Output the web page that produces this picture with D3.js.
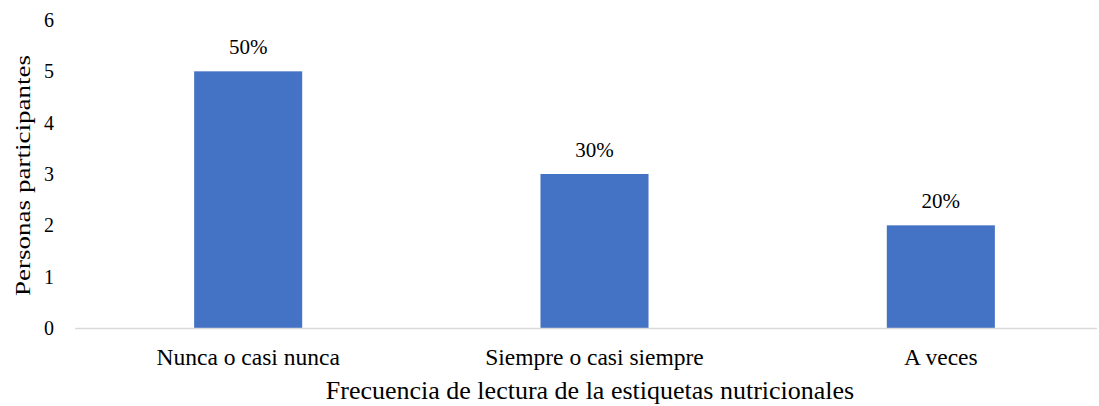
<!DOCTYPE html>
<html>
<head>
<meta charset="utf-8">
<script src="https://cdn.jsdelivr.net/npm/d3@7"></script>
<style>
  html, body { margin: 0; padding: 0; background: #fff; }
  svg text { font-family: "Liberation Serif", "Times New Roman", serif; fill: #000; }
</style>
</head>
<body>
<svg id="chart" width="1099" height="406"></svg>
<script>
const categories = ["Nunca o casi nunca", "Siempre o casi siempre", "A veces"];
const participants = [5, 3, 2];
const shareLabels = ["50%", "30%", "20%"];
const yTicks = [0, 1, 2, 3, 4, 5, 6];

const svg = d3.select("#chart");
const plotLeft = 75, plotRight = 1114, plotTop = 20, plotBottom = 328;

const x = d3.scaleBand()
  .domain(categories)
  .range([plotLeft, plotRight])
  .paddingInner(0.688)
  .paddingOuter(0.344);

const y = d3.scaleLinear().domain([0, 6]).range([plotBottom, plotTop]);

// value axis labels (no line, no ticks)
svg.append("g")
  .selectAll("text")
  .data(yTicks)
  .join("text")
  .attr("x", 54)
  .attr("y", d => y(d))
  .attr("dy", "0.35em")
  .attr("text-anchor", "end")
  .style("font-size", "20px")
  .text(d => d);

// bars
svg.append("g")
  .selectAll("rect")
  .data(categories)
  .join("rect")
  .attr("x", d => x(d))
  .attr("y", (d, i) => y(participants[i]))
  .attr("width", x.bandwidth())
  .attr("height", (d, i) => y(0) - y(participants[i]))
  .attr("fill", "#4472C4");

// category axis baseline
svg.append("line")
  .attr("x1", plotLeft).attr("x2", 1097)
  .attr("y1", y(0) + 0.5).attr("y2", y(0) + 0.5)
  .attr("stroke", "#d9d9d9")
  .attr("stroke-width", 1.5);

// data labels
svg.append("g")
  .selectAll("text")
  .data(categories)
  .join("text")
  .attr("x", d => x(d) + x.bandwidth() / 2)
  .attr("y", (d, i) => y(participants[i]) - 17)
  .attr("text-anchor", "middle")
  .style("font-size", "21px")
  .text((d, i) => shareLabels[i]);

// category labels
svg.append("g")
  .selectAll("text")
  .data(categories)
  .join("text")
  .attr("x", d => x(d) + x.bandwidth() / 2)
  .attr("y", 365)
  .attr("text-anchor", "middle")
  .style("font-size", "23.5px")
  .text(d => d);

// axis titles
svg.append("text")
  .attr("x", 590)
  .attr("y", 399)
  .attr("text-anchor", "middle")
  .style("font-size", "26px")
  .text("Frecuencia de lectura de la estiquetas nutricionales");

svg.append("text")
  .attr("transform", "translate(30,175.5) rotate(-90)")
  .attr("text-anchor", "middle")
  .attr("textLength", 241)
  .attr("lengthAdjust", "spacingAndGlyphs")
  .style("font-size", "22px")
  .text("Personas participantes");
</script>
</body>
</html>
